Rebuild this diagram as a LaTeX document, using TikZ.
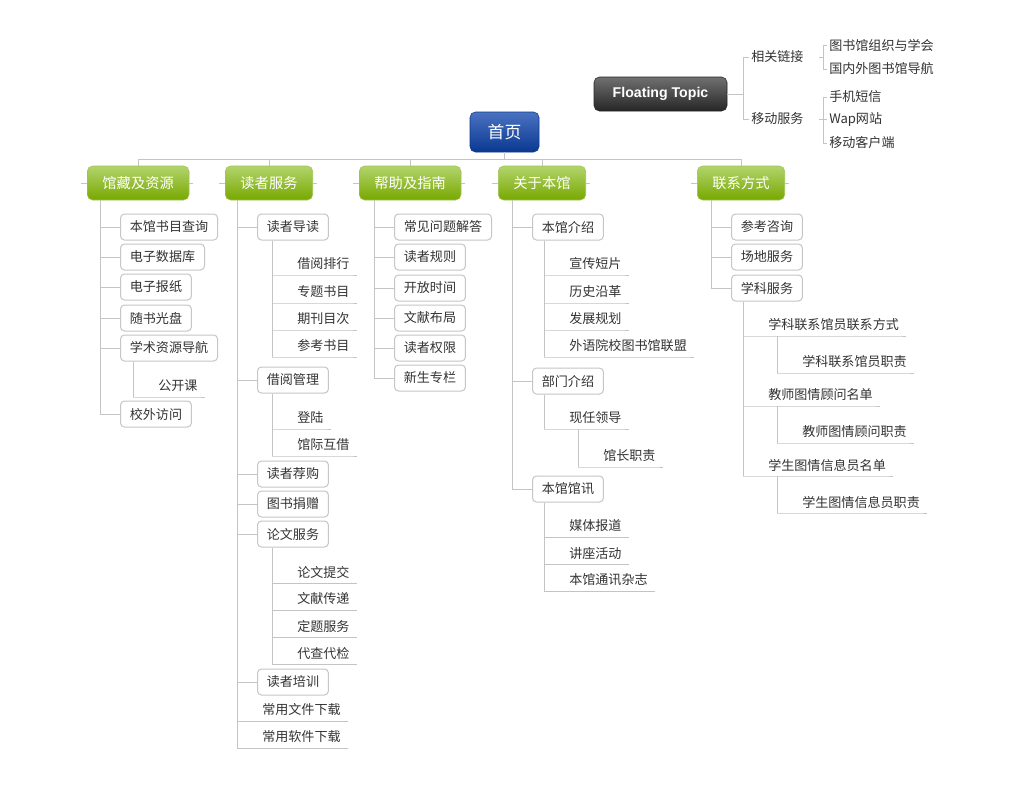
\documentclass[tikz,border=0pt]{standalone}
\usepackage{fontspec}
\setmainfont{Noto Sans CJK SC}
\newfontfamily\ftfont{Liberation Sans}
\definecolor{lineg}{HTML}{C4C4C4}
\definecolor{boxb}{HTML}{C6C6C6}
\definecolor{txt}{HTML}{333333}
\definecolor{gtop}{HTML}{B2D46C}
\definecolor{gbot}{HTML}{78A800}
\definecolor{gbrd}{HTML}{9CC450}
\definecolor{btop}{HTML}{4A72C0}
\definecolor{bbot}{HTML}{0A3892}
\definecolor{ftop}{HTML}{707070}
\definecolor{fbot}{HTML}{262626}
\tikzset{
  conn/.style={draw=lineg, line width=0.75pt},
  cbox/.style={draw=boxb, fill=white, rounded corners=3pt, line width=0.75pt,
    minimum height=19.5pt, inner xsep=7pt, inner ysep=0pt, text=txt,
    font=\fontsize{9.8pt}{11pt}\selectfont},
  leaf/.style={inner xsep=0pt, inner ysep=1pt, text=txt,
    font=\fontsize{9.8pt}{11pt}\selectfont},
  ftleaf/.style={inner xsep=1.5pt, inner ysep=1pt, text=txt,
    font=\fontsize{9.8pt}{11pt}\selectfont},
  green/.style={draw=gbrd, top color=gtop, bottom color=gbot, rounded corners=4pt,
    minimum height=25.5pt, inner xsep=11.4pt, inner ysep=0pt, text=white,
    font=\fontsize{10.7pt}{12pt}\selectfont},
  rootbox/.style={draw=bbot, top color=btop, bottom color=bbot, rounded corners=4pt,
    minimum height=30pt, minimum width=51.75pt, inner ysep=0pt, text=white,
    font=\fontsize{12.6pt}{14pt}\selectfont},
  floatbox/.style={draw=fbot, top color=ftop, bottom color=fbot, rounded corners=4pt,
    minimum height=25.5pt, minimum width=99.75pt, inner ysep=0pt, text=white,
    font=\ftfont\bfseries\fontsize{10.6pt}{12pt}\selectfont}
}
% boxed child: name, spine x, centre y, text
\newcommand\bx[4]{%
  \node[cbox, anchor=west] (#1) at (#2+20,#3) {#4};
  \draw[conn] (#2,#3) -- (#1.west);}
% underlined leaf: name, spine x, centre y, text
\newcommand\lf[4]{%
  \node[leaf, anchor=west] (#1) at (#2+25,#3) {#4};
  \draw[conn] (#2,#3+11) -- (#1.east |- 0,#3+11) -- ++(7,0);}
\begin{document}
\begin{tikzpicture}[x=0.75pt, y=-0.75pt]
\useasboundingbox (0,0) rectangle (1024,786);
\fill[white] (0,0) rectangle (1024,786);

% root
\node[rootbox] (root) at (504.5,132) {首页};

% first level
\node[green, anchor=west] (g1) at (87,183) {馆藏及资源};
\node[green, anchor=west] (g2) at (225,183) {读者服务};
\node[green, anchor=west] (g3) at (359,183) {帮助及指南};
\node[green, anchor=west] (g4) at (498,183) {关于本馆};
\node[green, anchor=west] (g5) at (697,183) {联系方式};
\foreach \g in {g1,g2,g3,g4,g5}{
  \draw[conn] (root.south) -- ++(0,7) -| (\g.north);
  \draw[conn] (\g.west) -- ++(-6,0);
  \draw[conn] (\g.east) -- ++(4,0);
}

% column 1
\draw[conn] (100,0 |- g1.south) -- (100,414);
\bx{c11}{100}{227}{本馆书目查询}
\bx{c12}{100}{257}{电子数据库}
\bx{c13}{100}{287}{电子报纸}
\bx{c14}{100}{318}{随书光盘}
\bx{c15}{100}{348}{学术资源导航}
\bx{c16}{100}{414}{校外访问}
\draw[conn] (133,0 |- c15.south) -- (133,397);
\lf{c151}{133}{386}{公开课}

% column 2
\draw[conn] (237,0 |- g2.south) -- (237,748);
\bx{c21}{237}{227}{读者导读}
\bx{c22}{237}{380}{借阅管理}
\bx{c23}{237}{474}{读者荐购}
\bx{c24}{237}{504}{图书捐赠}
\bx{c25}{237}{534}{论文服务}
\bx{c26}{237}{682}{读者培训}
\node[leaf, anchor=west] (c27) at (262,710) {常用文件下载};
\draw[conn] (237,721) -- (c27.east |- 0,721) -- ++(7,0);
\node[leaf, anchor=west] (c28) at (262,737) {常用软件下载};
\draw[conn] (237,748) -- (c28.east |- 0,748) -- ++(7,0);
\draw[conn] (272,0 |- c21.south) -- (272,357);
\lf{c211}{272}{264}{借阅排行}
\lf{c212}{272}{292}{专题书目}
\lf{c213}{272}{319}{期刊目次}
\lf{c214}{272}{346}{参考书目}
\draw[conn] (272,0 |- c22.south) -- (272,456);
\lf{c221}{272}{418}{登陆}
\lf{c222}{272}{445}{馆际互借}
\draw[conn] (272,0 |- c25.south) -- (272,664);
\lf{c251}{272}{572}{论文提交}
\lf{c252}{272}{599}{文献传递}
\lf{c253}{272}{626}{定题服务}
\lf{c254}{272}{653}{代查代检}

% column 3
\draw[conn] (374,0 |- g3.south) -- (374,378);
\bx{c31}{374}{227}{常见问题解答}
\bx{c32}{374}{257}{读者规则}
\bx{c33}{374}{288}{开放时间}
\bx{c34}{374}{318}{文献布局}
\bx{c35}{374}{348}{读者权限}
\bx{c36}{374}{378}{新生专栏}

% column 4
\draw[conn] (512,0 |- g4.south) -- (512,489);
\bx{c41}{512}{227}{本馆介绍}
\bx{c42}{512}{381}{部门介绍}
\bx{c43}{512}{489}{本馆馆讯}
\draw[conn] (544,0 |- c41.south) -- (544,357);
\lf{c411}{544}{264}{宣传短片}
\lf{c412}{544}{292}{历史沿革}
\lf{c413}{544}{319}{发展规划}
\lf{c414}{544}{346}{外语院校图书馆联盟}
\draw[conn] (544,0 |- c42.south) -- (544,429);
\lf{c421}{544}{418}{现任领导}
\draw[conn] (578,429) -- (578,467);
\lf{c4211}{578}{456}{馆长职责}
\draw[conn] (544,0 |- c43.south) -- (544,591);
\lf{c431}{544}{526}{媒体报道}
\lf{c432}{544}{553}{讲座活动}
\lf{c433}{544}{580}{本馆通讯杂志}

% column 5
\draw[conn] (711,0 |- g5.south) -- (711,288);
\bx{c51}{711}{227}{参考咨询}
\bx{c52}{711}{257}{场地服务}
\bx{c53}{711}{288}{学科服务}
\draw[conn] (743,0 |- c53.south) -- (743,476);
\lf{c531}{743}{325}{学科联系馆员联系方式}
\draw[conn] (777,336) -- (777,373);
\lf{c5311}{777}{362}{学科联系馆员职责}
\lf{c532}{743}{395}{教师图情顾问名单}
\draw[conn] (777,406) -- (777,443);
\lf{c5321}{777}{432}{教师图情顾问职责}
\lf{c533}{743}{465}{学生图情信息员名单}
\draw[conn] (777,476) -- (777,513);
\lf{c5331}{777}{502}{学生图情信息员职责}

% floating topic
\node[floatbox] (ft) at (660.5,94) {Floating Topic};
\node[ftleaf, anchor=west] (f1) at (749,57) {相关链接};
\node[ftleaf, anchor=west] (f2) at (749,119) {移动服务};
\coordinate (fb) at (743,94);
\draw[conn] (ft.east) -- (fb);
\draw[conn] (fb) |- (f1.west);
\draw[conn] (fb) |- (f2.west);
\node[ftleaf, anchor=west] (f11) at (827,45) {图书馆组织与学会};
\node[ftleaf, anchor=west] (f12) at (827,69) {国内外图书馆导航};
\coordinate (fb1) at (823,57);
\draw[conn] ([xshift=10pt]f1.east) -- (fb1);
\draw[conn] (fb1) |- (f11.west);
\draw[conn] (fb1) |- (f12.west);
\node[ftleaf, anchor=west] (f21) at (827,97) {手机短信};
\node[ftleaf, anchor=west] (f22) at (827,119) {Wap网站};
\node[ftleaf, anchor=west] (f23) at (827,143) {移动客户端};
\coordinate (fb2) at (823,119);
\draw[conn] ([xshift=10pt]f2.east) -- (fb2);
\draw[conn] (fb2) |- (f21.west);
\draw[conn] (fb2) -- (f22.west);
\draw[conn] (fb2) |- (f23.west);
\end{tikzpicture}
\end{document}
